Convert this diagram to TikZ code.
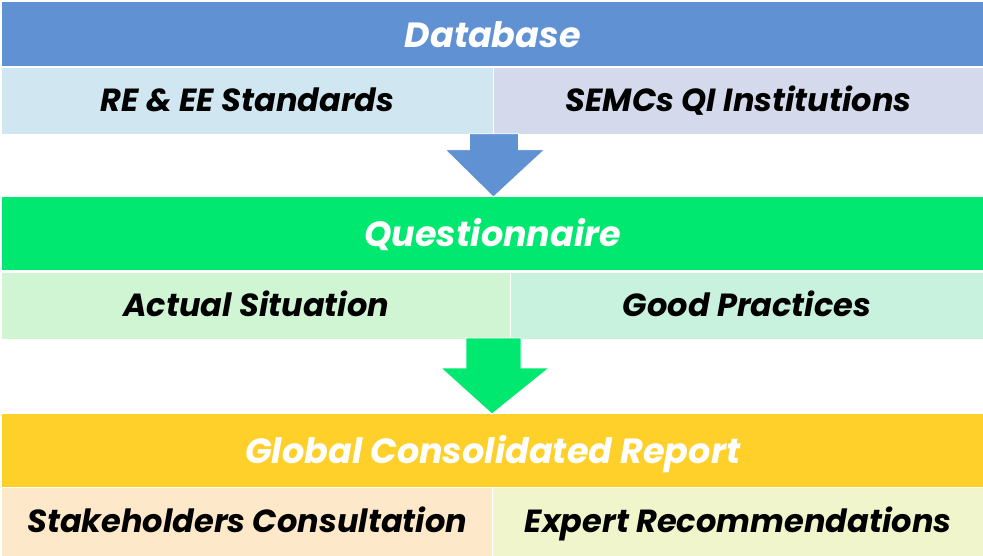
\documentclass[tikz,border=0pt]{standalone}
\usepackage{fontspec}
\setmainfont{Poppins}
\usetikzlibrary{positioning,calc}
\definecolor{dbblue}{HTML}{5F91D3}
\definecolor{dbleft}{HTML}{D0E6F0}
\definecolor{dbright}{HTML}{D4DAEC}
\definecolor{qngreen}{HTML}{00E86F}
\definecolor{qnleft}{HTML}{CFF5D3}
\definecolor{qnright}{HTML}{C9F2DE}
\definecolor{rpyellow}{HTML}{FFD02A}
\definecolor{rpleft}{HTML}{FDE8CA}
\definecolor{rpright}{HTML}{F1F5CB}
\begin{document}
\begin{tikzpicture}[x=1pt, y=-1pt,
	band/.style={rectangle, inner sep=0pt, anchor=north west, minimum width=981pt, text=white, text height=29pt, text depth=3pt, font=\fontsize{35}{35}\selectfont\bfseries\itshape},
	cell/.style={rectangle, inner sep=0pt, text=black, text height=26pt, text depth=4pt, font=\fontsize{32}{32}\selectfont\bfseries\itshape},
	blockarrow/.style={draw=white, line width=0.8pt}]
	\useasboundingbox (0,0) rectangle (983,555);
	% 
	\node[band, fill=dbblue, minimum height=64pt] (db) at (2,2) {Database};
	\node[cell, fill=dbleft, minimum width=491pt, minimum height=66pt, below right=1pt and 0pt of db.south west] (restd) {RE \& EE Standards};
	\node[cell, fill=dbright, minimum width=490pt, minimum height=66pt, right=0pt of restd] (semcs) {SEMCs QI Institutions};
	% 
	\node[band, fill=qngreen, minimum height=73pt] (qn) at (2,197) {Questionnaire};
	\node[cell, fill=qnleft, minimum width=508pt, minimum height=66pt, below right=2pt and 0pt of qn.south west] (actual) {Actual Situation};
	\node[cell, fill=qnright, minimum width=473pt, minimum height=66pt, right=0pt of actual] (good) {Good Practices};
	% 
	\node[band, fill=rpyellow, minimum height=73pt] (rp) at (2,414) {Global Consolidated Report};
	\node[cell, fill=rpleft, minimum width=490pt, minimum height=68pt, below right=0pt and 0pt of rp.south west] (stake) {Stakeholders Consultation};
	\node[cell, fill=rpright, minimum width=491pt, minimum height=68pt, right=0pt of stake] (expert) {Expert Recommendations};
	% 
	\coordinate (a1) at ($(restd.south east)!0.5!(semcs.south west)$);
	\filldraw[blockarrow, fill=dbblue] ($(a1)+(-24,0)$) -- ($(a1)+(25,0)$) -- ($(a1)+(25,16)$) -- ($(a1)+(51,16)$)
		-- (a1 |- qn.north) -- ($(a1)+(-48,16)$) -- ($(a1)+(-24,16)$) -- cycle;
	\coordinate (a2) at (492,338);
	\filldraw[blockarrow, fill=qngreen] ($(a2)+(-26,0)$) -- ($(a2)+(29,0)$) -- ($(a2)+(29,30)$) -- ($(a2)+(57,30)$)
		-- (a2 |- rp.north) -- ($(a2)+(-51,30)$) -- ($(a2)+(-26,30)$) -- cycle;
\end{tikzpicture}
\end{document}
